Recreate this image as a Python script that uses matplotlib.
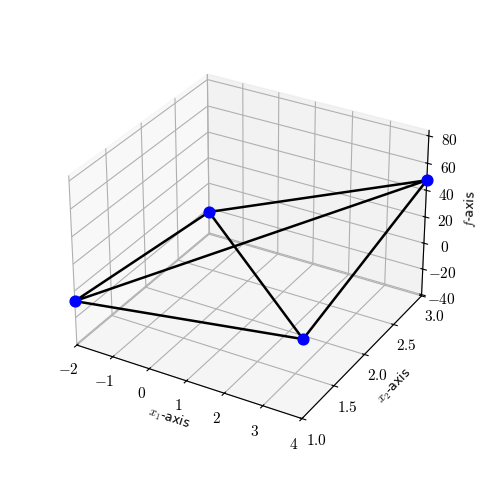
import numpy as np
import matplotlib
matplotlib.use('Agg')
import matplotlib.pyplot as plt

plt.rcParams['mathtext.fontset'] = 'cm'

# vertices of the mesh
x1_vals = [-2, 4, 4, -2, -2, 4]
x2_vals = [1, 1, 3, 3, 1, 3]
f_vals = [-7.5, 17, 47.5, -23, -7.5, 47.5]
# last diagonal
x1_diag = [-2, 4]
x2_diag = [3, 1]
f_diag = [-23, 17]

x1_ticks = [-2, -1, 0, 1, 2, 3, 4]
x2_ticks = [1.0, 1.5, 2.0, 2.5, 3.0]
f_ticks = [-40, -20, 0, 20, 40, 60, 80]

fig = plt.figure(figsize=(4.91, 4.91), dpi=100)
ax = fig.add_axes([0.095, 0.096, 0.816, 0.816], projection='3d')

ax.plot(x1_vals, x2_vals, f_vals, 'k-', linewidth=1.8)
ax.plot(x1_diag, x2_diag, f_diag, 'k-', linewidth=1.8)
ax.scatter(x1_vals[:4], x2_vals[:4], f_vals[:4], c='b', s=60, depthshade=False, zorder=5)

ax.set_xlim(-2, 4)
ax.set_ylim(1, 3)
ax.set_zlim(-41, 84)
ax.set_xticks(x1_ticks)
ax.set_yticks(x2_ticks)
ax.set_zticks(f_ticks)
ax.set_xticklabels([f'${t}$' for t in x1_ticks])
ax.set_yticklabels([f'${t:.1f}$' for t in x2_ticks])
ax.set_zticklabels([f'${t}$' for t in f_ticks])
ax.tick_params(axis='x', labelsize=11, pad=1)
ax.tick_params(axis='y', labelsize=11, pad=1)
ax.tick_params(axis='z', labelsize=11, pad=1)
ax.set_xlabel(r'$x_1$-axis', fontsize=9, labelpad=-2)
ax.set_ylabel(r'$x_2$-axis', fontsize=9, labelpad=-1)
ax.set_zlabel(r'$f$-axis', fontsize=9, labelpad=-1)

fig.savefig('out.png', dpi=100)
